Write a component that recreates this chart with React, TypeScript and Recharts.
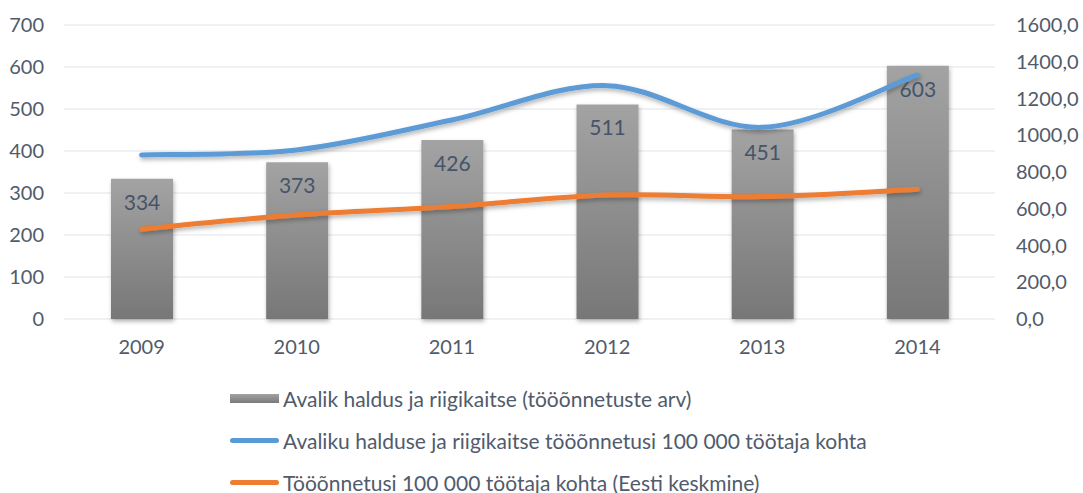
import React from "react";
import {
  ComposedChart,
  Bar,
  Line,
  XAxis,
  YAxis,
  CartesianGrid,
  Legend,
  LabelList,
} from "recharts";

const years = ["2009", "2010", "2011", "2012", "2013", "2014"];
const accidentsCount = [334, 373, 426, 511, 451, 603];
const sectorRate = [893, 920, 1083, 1270, 1043, 1328];
const estoniaAvgRate = [490, 566, 612, 675, 666, 706];

const leftTicks = [0, 100, 200, 300, 400, 500, 600, 700];
const rightTicks = [0, 200, 400, 600, 800, 1000, 1200, 1400, 1600];

const seriesNames = [
  "Avalik haldus ja riigikaitse (tööõnnetuste arv)",
  "Avaliku halduse ja riigikaitse tööõnnetusi 100 000 töötaja kohta",
  "Tööõnnetusi 100 000 töötaja kohta (Eesti keskmine)",
];

const data = years.map((y, i) => ({
  year: y,
  count: accidentsCount[i],
  sector: sectorRate[i],
  avg: estoniaAvgRate[i],
}));

const FONT = "Lato, 'Noto Sans', sans-serif";
const TEXT = "#505b6b";

// Excel-like smoothing (Catmull-Rom bezier) as a d3-style curve factory
function excelCurve(context: any) {
  let pts: [number, number][] = [];
  return {
    areaStart() {},
    areaEnd() {},
    lineStart() {
      pts = [];
    },
    lineEnd() {
      if (!pts.length) return;
      context.moveTo(pts[0][0], pts[0][1]);
      for (let i = 0; i < pts.length - 1; i++) {
        const p0 = pts[i - 1] || pts[i];
        const p1 = pts[i];
        const p2 = pts[i + 1];
        const p3 = pts[i + 2] || p2;
        const c1x = p1[0] + (p2[0] - p0[0]) / 6;
        const c1y = p1[1] + (p2[1] - p0[1]) / 6;
        const c2x = p2[0] - (p3[0] - p1[0]) / 6;
        const c2y = p2[1] - (p3[1] - p1[1]) / 6;
        context.bezierCurveTo(c1x, c1y, c2x, c2y, p2[0], p2[1]);
      }
    },
    point(x: number, y: number) {
      pts.push([+x, +y]);
    },
  };
}

const LegendContent = () => {
  const rows = [
    { kind: "bar", color: "", label: seriesNames[0] },
    { kind: "line", color: "#5B9BD5", label: seriesNames[1] },
    { kind: "line", color: "#ED7D31", label: seriesNames[2] },
  ];
  return (
    <div style={{ position: "relative", height: 130, width: 1083 }}>
      {rows.map((r, i) => (
        <div
          key={i}
          style={{
            position: "absolute",
            left: 230,
            top: 35 + i * 42 - 15,
            height: 30,
            display: "flex",
            alignItems: "center",
            whiteSpace: "nowrap",
          }}
        >
          {r.kind === "bar" ? (
            <div
              style={{
                width: 49,
                height: 9,
                background: "linear-gradient(#a2a2a2, #7a7a7a)",
              }}
            />
          ) : (
            <div
              style={{
                width: 49,
                height: 5,
                borderRadius: 3,
                background: r.color,
              }}
            />
          )}
          <span
            style={{
              marginLeft: 4,
              fontFamily: FONT,
              fontSize: 21,
              color: TEXT,
            }}
          >
            {r.label}
          </span>
        </div>
      ))}
    </div>
  );
};

export default function App() {
  return (
    <div style={{ position: "absolute", left: 0, top: 0, background: "#fff" }}>
      <ComposedChart
        width={1083}
        height={493}
        data={data}
        margin={{ top: 25, right: 0, left: 0, bottom: 0 }}
        barCategoryGap="30%"
      >
        <defs>
          <linearGradient id="barGrad" x1="0" y1="0" x2="0" y2="1">
            <stop offset="0%" stopColor="#a3a3a3" />
            <stop offset="100%" stopColor="#777777" />
          </linearGradient>
          <filter id="shadow" x="-10%" y="-20%" width="120%" height="160%">
            <feDropShadow dx="1" dy="2.5" stdDeviation="2" floodColor="#000" floodOpacity="0.3" />
          </filter>
        </defs>
        <CartesianGrid vertical={false} stroke="#e1e4ea" strokeWidth={1.2} yAxisId="left" />
        <XAxis
          dataKey="year"
          axisLine={false}
          tickLine={false}
          height={44}
          tickMargin={15}
          tick={{ fill: TEXT, fontSize: 20, fontFamily: FONT }}
        />
        <YAxis
          yAxisId="left"
          orientation="left"
          domain={[0, 700]}
          ticks={leftTicks}
          width={64}
          axisLine={false}
          tickLine={false}
          tickMargin={14}
          interval={0}
          tick={{ fill: TEXT, fontSize: 20, fontFamily: FONT }}
        />
        <YAxis
          yAxisId="right"
          orientation="right"
          domain={[0, 1600]}
          ticks={rightTicks}
          width={88}
          axisLine={false}
          tickLine={false}
          tickMargin={15}
          interval={0}
          tickFormatter={(v: number) => v.toFixed(1).replace(".", ",")}
          tick={{ fill: TEXT, fontSize: 20, fontFamily: FONT, textAnchor: "start" }}
        />
        <Bar
          yAxisId="left"
          dataKey="count"
          name={seriesNames[0]}
          fill="url(#barGrad)"
          barSize={62}
          filter="url(#shadow)"
          isAnimationActive={false}
        >
          <LabelList
            dataKey="count"
            position="insideTop"
            offset={16}
            fill="#44546A"
            fontSize={21}
            fontFamily={FONT}
          />
        </Bar>
        <Line
          yAxisId="right"
          dataKey="sector"
          name={seriesNames[1]}
          type={excelCurve as any}
          stroke="#5B9BD5"
          strokeWidth={5}
          strokeLinecap="round"
          dot={false}
          activeDot={false}
          filter="url(#shadow)"
          isAnimationActive={false}
        />
        <Line
          yAxisId="right"
          dataKey="avg"
          name={seriesNames[2]}
          type={excelCurve as any}
          stroke="#ED7D31"
          strokeWidth={5}
          strokeLinecap="round"
          dot={false}
          activeDot={false}
          filter="url(#shadow)"
          isAnimationActive={false}
        />
        <Legend
          verticalAlign="bottom"
          align="left"
          content={<LegendContent />}
          wrapperStyle={{ left: 0, bottom: 0, width: 1083, height: 130 }}
        />
      </ComposedChart>
    </div>
  );
}
